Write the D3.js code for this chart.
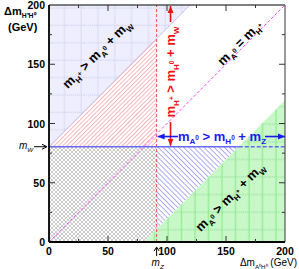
<!DOCTYPE html>
<html>
<head>
<meta charset="utf-8">
<script src="https://cdn.jsdelivr.net/npm/d3@7"></script>
<style>
  body { margin: 0; background: #fff; }
  text { font-family: "Liberation Sans", Arial, sans-serif; }
</style>
</head>
<body>
<svg id="chart" width="299" height="269"></svg>
<script>
// masses (GeV)
var mW = 80.4;
var mZ = 91.2;
var axisMax = 200;
var majorTicks = [0, 50, 100, 150, 200];
var minorTicks = [25, 75, 125, 175];
// position of the two double arrows
var redArrowX = 103;
var blueArrowY = 89;

var svg = d3.select("#chart");
var x = d3.scaleLinear().domain([0, axisMax]).range([49, 285]);
var y = d3.scaleLinear().domain([0, axisMax]).range([242, 5]);

var defs = svg.append("defs");

// lavender grid fill
var lav = defs.append("pattern").attr("id", "lav")
  .attr("patternUnits", "userSpaceOnUse").attr("width", 16.8).attr("height", 17.4);
lav.append("rect").attr("width", 16.8).attr("height", 17.4).attr("fill", "#eeeeff");
lav.append("line").attr("x1", 14).attr("x2", 14).attr("y1", 0).attr("y2", 17.4)
  .attr("stroke", "#dadaf6").attr("stroke-width", 1);
lav.append("line").attr("x1", 0).attr("x2", 16.8).attr("y1", 8).attr("y2", 8)
  .attr("stroke", "#cacae6").attr("stroke-width", 1).attr("stroke-dasharray", "1,1");

// green grid fill
var grn = defs.append("pattern").attr("id", "grn")
  .attr("patternUnits", "userSpaceOnUse").attr("width", 13.5).attr("height", 17.6);
grn.append("rect").attr("width", 13.5).attr("height", 17.6).attr("fill", "#c8f8c8");
grn.append("line").attr("x1", 6).attr("x2", 6).attr("y1", 0).attr("y2", 17.6)
  .attr("stroke", "#80ea80").attr("stroke-width", 1);
grn.append("line").attr("x1", 0).attr("x2", 13.5).attr("y1", 1).attr("y2", 1)
  .attr("stroke", "#8ad88a").attr("stroke-width", 1).attr("stroke-dasharray", "1,1");

// red hatch "/"
var rh = defs.append("pattern").attr("id", "rh")
  .attr("patternUnits", "userSpaceOnUse").attr("width", 3).attr("height", 3)
  .attr("patternTransform", "rotate(45)");
rh.append("rect").attr("width", 3).attr("height", 3).attr("fill", "#fff");
rh.append("line").attr("x1", 0).attr("x2", 0).attr("y1", 0).attr("y2", 3)
  .attr("stroke", "#f27070").attr("stroke-width", 1);

// blue hatch "\"
var bh = defs.append("pattern").attr("id", "bh")
  .attr("patternUnits", "userSpaceOnUse").attr("width", 3.6).attr("height", 3.6)
  .attr("patternTransform", "rotate(-45)");
bh.append("rect").attr("width", 3.6).attr("height", 3.6).attr("fill", "#fff");
bh.append("line").attr("x1", 0).attr("x2", 0).attr("y1", 0).attr("y2", 3.6)
  .attr("stroke", "#5a5ae6").attr("stroke-width", 1);

// gray cross hatch
var gh = defs.append("pattern").attr("id", "gh")
  .attr("patternUnits", "userSpaceOnUse").attr("width", 4).attr("height", 4);
gh.append("rect").attr("width", 4).attr("height", 4).attr("fill", "#fff");
gh.append("path").attr("d", "M0,0L4,4M4,0L0,4")
  .attr("stroke", "#a8a8a8").attr("stroke-width", 0.6);

var line = d3.line().x(function(d) { return x(d[0]); }).y(function(d) { return y(d[1]); });

// regions
var regions = [
  { fill: "url(#gh)", pts: [[0, 0], [0, mW], [mZ, mW], [mZ, 0]] },
  { fill: "url(#lav)", pts: [[0, mW], [0, axisMax], [axisMax - mW, axisMax]] },
  { fill: "url(#rh)", pts: [[0, mW], [mZ, mZ + mW], [mZ, mW]] },
  { fill: "url(#bh)", pts: [[mZ, mW], [mW + mW, mW], [mZ, mZ - mW]] },
  { fill: "url(#grn)", pts: [[mW, 0], [axisMax, 0], [axisMax, axisMax - mW]] }
];
svg.append("g").selectAll("path").data(regions).enter().append("path")
  .attr("d", function(d) { return line(d.pts) + "Z"; })
  .attr("fill", function(d) { return d.fill; });

// edge of lavender region
svg.append("path").attr("d", line([[0, mW], [axisMax - mW, axisMax]]))
  .attr("stroke", "#b8b8f0").attr("stroke-width", 0.8).attr("fill", "none");

// mZ red dashed vertical
svg.append("path").attr("d", line([[mZ, 0], [mZ, axisMax]]))
  .attr("stroke", "#f05050").attr("stroke-width", 1).attr("stroke-dasharray", "3,2").attr("fill", "none");

// mW blue horizontal
svg.append("path").attr("d", line([[0, mW], [mW + mW, mW]]))
  .attr("stroke", "#6a6af0").attr("stroke-width", 1.6).attr("fill", "none");
svg.append("path").attr("d", line([[mW + mW, mW], [axisMax, mW]]))
  .attr("stroke", "#6a6af0").attr("stroke-width", 1.4).attr("stroke-dasharray", "4,2").attr("fill", "none");

// diagonal mA = mH+
svg.append("path").attr("d", line([[0, 0], [axisMax, axisMax]]))
  .attr("stroke", "#ff44ff").attr("stroke-width", 1).attr("stroke-dasharray", "3,2").attr("fill", "none");

// axes frame and ticks
var frame = svg.append("g");
frame.append("line").attr("x1", x(0)).attr("x2", x(axisMax)).attr("y1", y(axisMax)).attr("y2", y(axisMax))
  .attr("stroke", "#000").attr("stroke-width", 1);
frame.append("line").attr("x1", x(axisMax)).attr("x2", x(axisMax)).attr("y1", y(0)).attr("y2", y(axisMax))
  .attr("stroke", "#555").attr("stroke-width", 1.2);
frame.append("line").attr("x1", x(0)).attr("x2", x(0)).attr("y1", y(0)).attr("y2", y(axisMax))
  .attr("stroke", "#000").attr("stroke-width", 1.8);
frame.append("line").attr("x1", x(0)).attr("x2", x(axisMax)).attr("y1", y(0)).attr("y2", y(0))
  .attr("stroke", "#000").attr("stroke-width", 1.8);

function ticks(vals, len) {
  vals.forEach(function(v) {
    frame.append("line").attr("x1", x(v)).attr("x2", x(v)).attr("y1", y(0)).attr("y2", y(0) - len)
      .attr("stroke", "#333").attr("stroke-width", 1);
    frame.append("line").attr("x1", x(v)).attr("x2", x(v)).attr("y1", y(axisMax)).attr("y2", y(axisMax) + len)
      .attr("stroke", "#333").attr("stroke-width", 1);
    frame.append("line").attr("x1", x(0)).attr("x2", x(0) + len).attr("y1", y(v)).attr("y2", y(v))
      .attr("stroke", "#333").attr("stroke-width", 1);
    frame.append("line").attr("x1", x(axisMax)).attr("x2", x(axisMax) - len).attr("y1", y(v)).attr("y2", y(v))
      .attr("stroke", "#333").attr("stroke-width", 1);
  });
}
ticks(majorTicks.slice(1, -1), 6);
ticks(minorTicks, 3);

// tick labels
svg.append("g").selectAll("text").data(majorTicks).enter().append("text")
  .attr("x", function(d) { return x(d); }).attr("y", 255)
  .attr("text-anchor", "middle").attr("font-size", 10.5).attr("font-weight", "bold")
  .text(function(d) { return d; });
svg.append("g").selectAll("text").data(majorTicks).enter().append("text")
  .attr("x", 45).attr("y", function(d) { return y(d) + 4; })
  .attr("text-anchor", "end").attr("font-size", 10.5).attr("font-weight", "bold")
  .text(function(d) { return d; });

// rich text helper: parts are [text, level] with level 0 normal, 1 sub, 2 sup-of-sub
function rich(g, parts, size) {
  var t = g.append("text").attr("font-size", size);
  var cur = 0;
  var offs = [0, 0.3, -0.05];
  var sizes = [1, 0.62, 0.5];
  parts.forEach(function(p) {
    var lvl = p[1] || 0;
    t.append("tspan")
      .attr("dy", ((offs[lvl] - cur) * size).toFixed(2))
      .attr("font-size", size * sizes[lvl])
      .text(p[0]);
    cur = offs[lvl];
  });
  return t;
}

// diagonal labels
var l1 = svg.append("g").attr("transform", "translate(100,57) rotate(-45)");
rich(l1, [["m"], ["H", 1], ["+", 2], [" > m"], ["A", 1], ["0", 2], [" + m"], ["W", 1]], 13)
  .attr("text-anchor", "middle").attr("font-weight", "bold");

var l2 = svg.append("g").attr("transform", "translate(243,46) rotate(-45)");
rich(l2, [["m"], ["A", 1], ["0", 2], [" = m"], ["H", 1], ["+", 2]], 13)
  .attr("text-anchor", "middle").attr("font-weight", "bold");

var l3 = svg.append("g").attr("transform", "translate(233,200) rotate(-45)");
rich(l3, [["m"], ["A", 1], ["0", 2], [" > m"], ["H", 1], ["+", 2], [" + m"], ["W", 1]], 13)
  .attr("text-anchor", "middle").attr("font-weight", "bold");

// arrow heads
defs.append("marker").attr("id", "ar").attr("markerWidth", 8).attr("markerHeight", 8)
  .attr("refX", 7).attr("refY", 4).attr("orient", "auto").attr("markerUnits", "userSpaceOnUse")
  .append("path").attr("d", "M0,1L7,4L0,7z").attr("fill", "#ee1111");
defs.append("marker").attr("id", "ab").attr("markerWidth", 8).attr("markerHeight", 8)
  .attr("refX", 7).attr("refY", 4).attr("orient", "auto").attr("markerUnits", "userSpaceOnUse")
  .append("path").attr("d", "M0,1L7,4L0,7z").attr("fill", "#1a1aee");

// red vertical double arrow
var rx = x(redArrowX);
svg.append("line").attr("x1", rx).attr("x2", rx).attr("y1", 22).attr("y2", y(axisMax) + 1)
  .attr("stroke", "#ee1111").attr("stroke-width", 1.6).attr("marker-end", "url(#ar)");
svg.append("line").attr("x1", rx).attr("x2", rx).attr("y1", 122).attr("y2", y(mW) - 1)
  .attr("stroke", "#ee1111").attr("stroke-width", 1.6).attr("marker-end", "url(#ar)");
var l4 = svg.append("g").attr("transform", "translate(" + (rx + 4.5) + ",72) rotate(-90)");
rich(l4, [["m"], ["H", 1], ["+", 2], [" > m"], ["H", 1], ["0", 2], [" + m"], ["W", 1]], 13)
  .attr("text-anchor", "middle").attr("font-weight", "bold").attr("fill", "#ee1111");

// blue horizontal double arrow
var by = y(blueArrowY);
svg.append("line").attr("x1", 178).attr("x2", x(mZ) + 1).attr("y1", by).attr("y2", by)
  .attr("stroke", "#1a1aee").attr("stroke-width", 1.6).attr("marker-end", "url(#ab)");
svg.append("line").attr("x1", 265).attr("x2", x(axisMax)).attr("y1", by).attr("y2", by)
  .attr("stroke", "#1a1aee").attr("stroke-width", 1.6).attr("marker-end", "url(#ab)");
rich(svg, [["m"], ["A", 1], ["0", 2], [" > m"], ["H", 1], ["0", 2], [" + m"], ["Z", 1]], 13)
  .attr("x", 222).attr("y", by + 4).attr("text-anchor", "middle")
  .attr("font-weight", "bold").attr("fill", "#1a1aee");

// axis titles
rich(svg, [["\u0394m"], ["H\u207aH\u2070", 1]], 11)
  .attr("x", 4).attr("y", 15).attr("font-weight", "bold");
svg.append("text").attr("x", 8).attr("y", 31).attr("font-size", 11).attr("font-weight", "bold").text("(GeV)");

rich(svg, [["\u0394m"], ["A\u2070H\u2070", 1], [" (GeV)"]], 10)
  .attr("x", 297).attr("y", 266).attr("text-anchor", "end");

// mW marker on y axis
rich(svg, [["m"], ["W", 1]], 10).attr("x", 19).attr("y", 149)
  .attr("font-family", "Liberation Serif, serif").attr("font-style", "italic");
svg.append("line").attr("x1", 34).attr("x2", 46).attr("y1", y(mW)).attr("y2", y(mW))
  .attr("stroke", "#000").attr("stroke-width", 1);
svg.append("path").attr("d", "M42," + (y(mW) - 2.5) + "L47," + y(mW) + "L42," + (y(mW) + 2.5))
  .attr("fill", "none").attr("stroke", "#000").attr("stroke-width", 1);

// mZ marker under x axis
svg.append("line").attr("x1", x(mZ)).attr("x2", x(mZ)).attr("y1", 256).attr("y2", 248)
  .attr("stroke", "#000").attr("stroke-width", 1);
svg.append("path").attr("d", "M" + (x(mZ) - 2.5) + ",251L" + x(mZ) + ",247L" + (x(mZ) + 2.5) + ",251")
  .attr("fill", "none").attr("stroke", "#000").attr("stroke-width", 1);
rich(svg, [["m"], ["Z", 1]], 10).attr("x", x(mZ) - 5).attr("y", 266)
  .attr("font-family", "Liberation Serif, serif").attr("font-style", "italic");
</script>
</body>
</html>
